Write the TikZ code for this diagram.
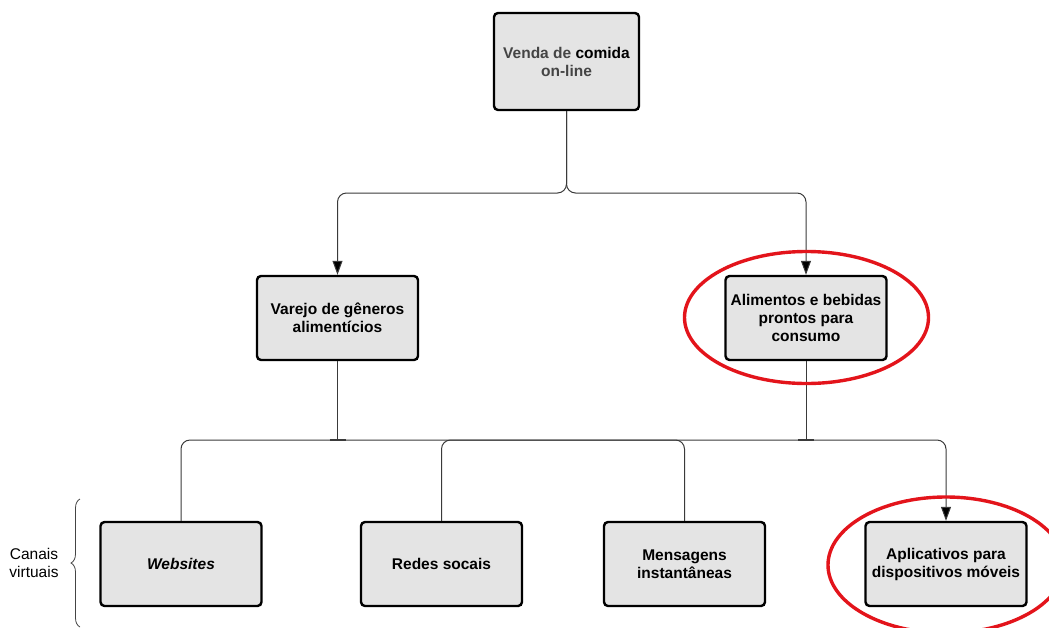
\documentclass[tikz,border=0pt]{standalone}
\usepackage{fontspec}
\setmainfont{Liberation Sans}
\usetikzlibrary{positioning,calc,arrows.meta,decorations.pathreplacing}
\definecolor{boxfill}{HTML}{E4E4E4}
\definecolor{wire}{HTML}{3A3A3A}
\definecolor{mark}{HTML}{E3141B}
\definecolor{soft}{HTML}{444444}
\tikzset{
  box/.style    ={draw=black, fill=boxfill, line width=2.4pt, rounded corners=4pt,
                  minimum width=161pt, minimum height=84pt, align=center,
                  font=\fontsize{15.5}{18}\selectfont\bfseries},
  topbox/.style ={box, minimum width=145pt, minimum height=97pt},
  conn/.style   ={draw=wire, line width=1pt, rounded corners=9pt},
  flow/.style   ={conn, -{Triangle[length=14pt,width=10pt,fill=black]}},
  tick/.style   ={draw=wire, line width=2pt},
  hilite/.style ={draw=mark, line width=3.4pt},
  sidebrace/.style={draw=soft, line width=0.8pt,
                  decorate, decoration={brace, amplitude=9pt}},
}
\begin{document}
\begin{tikzpicture}[x=1pt, y=-1pt]
  \useasboundingbox (0,0) rectangle (1049,627);
  \clip (0,0) rectangle (1049,627);
  % top
  \node[topbox] (T) at (566.5,61.5) {{\color{soft}Venda de} comida\\{\color{soft}on-line}};
  % middle row
  \node[box] (V) at (337.5,318) {Varejo de gêneros\\alimentícios};
  \node[box] (A) at (806,318)   {Alimentos e bebidas\\prontos para\\consumo};
  % bottom row
  \node[box] (W) at (181,564) {\itshape Websites};
  \node[box] (R) at (441.5,564) {Redes socais};
  \node[box] (M) at (684.5,564) {Mensagens\\instantâneas};
  \node[box] (P) at (946,564) {Aplicativos para\\dispositivos móveis};
  % junctions
  \coordinate (split) at (566.5,193);
  \coordinate (jv) at (V.south |- 0,440);
  \coordinate (ja) at (A.south |- 0,440);
  % flows
  \draw[flow] (T.south) -- (split) -| (V.north);
  \draw[flow] (T.south) -- (split) -| (A.north);
  \draw[conn] (V.south) -- (jv);
  \draw[conn] (A.south) -- (ja);
  \draw[conn] (jv) -| (W.north);
  \draw[conn] (jv) -| (M.north);
  \draw[conn] (ja) -| (R.north);
  \draw[flow] (ja) -| (P.north);
  \draw[tick] ($(jv)+(-8,0)$) -- ($(jv)+(8,0)$);
  \draw[tick] ($(ja)+(-8,0)$) -- ($(ja)+(8,0)$);
  % highlights
  \draw[hilite] (806.5,317.5) ellipse [x radius=122, y radius=66];
  \draw[hilite] (946,565) ellipse [x radius=118, y radius=68];
  % side label
  \draw[sidebrace] (80,627) -- (80,499);
  \node[font=\fontsize{15.5}{18}\selectfont, align=center] (cv) at (34,563) {Canais\\virtuais};
\end{tikzpicture}
\end{document}
